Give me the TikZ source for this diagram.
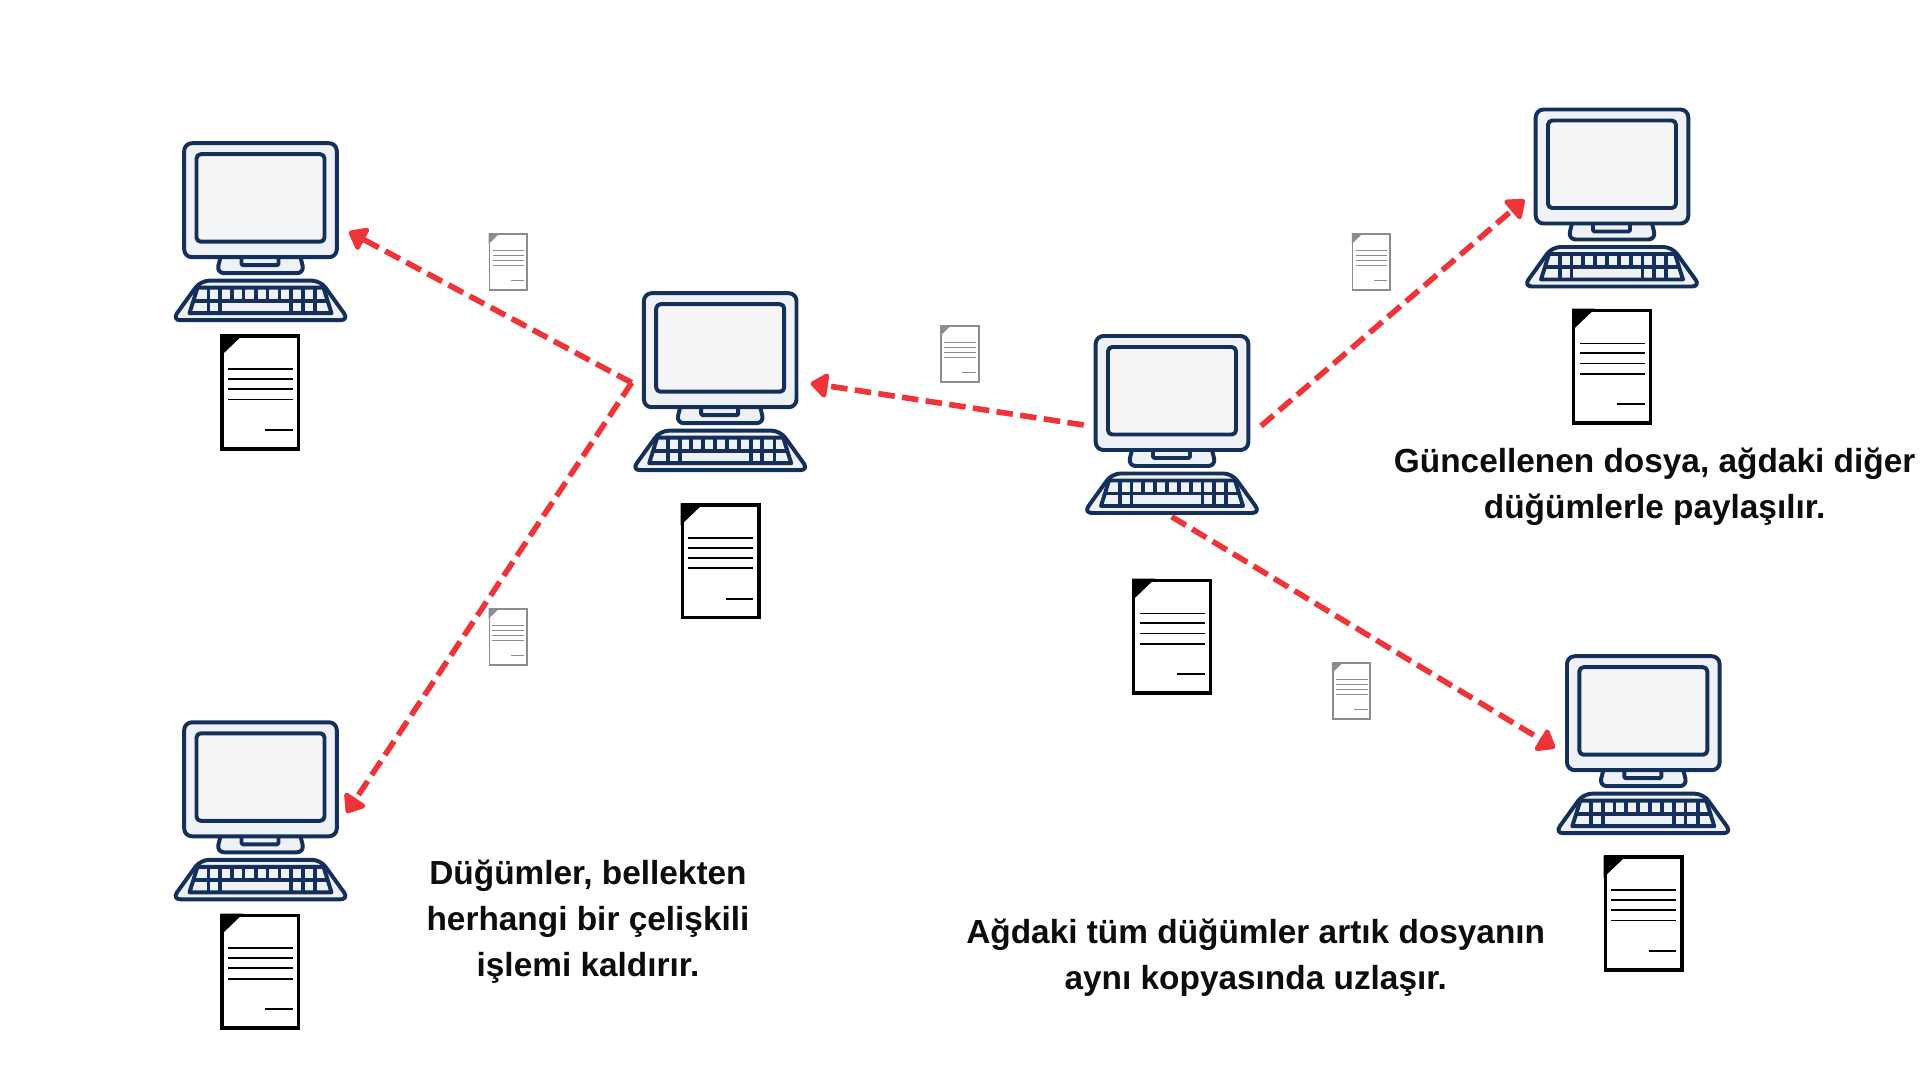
\documentclass[tikz,border=0pt]{standalone}
\usepackage{fontspec}
\setmainfont{Liberation Sans}
\usetikzlibrary{arrows.meta}
\definecolor{navy}{HTML}{14305A}
\definecolor{bodyfill}{HTML}{EEF2F7}
\definecolor{screenfill}{HTML}{F4F5F7}
\definecolor{redline}{HTML}{EE3438}
\definecolor{docgray}{HTML}{8C8C8C}
\tikzset{
  x=0.05cm,y=-0.05cm,
  navyline/.style={draw=navy,line width=5.6pt,line join=round},
  flow/.style={draw=redline,line width=8pt,dash pattern=on 23.5pt off 10.5pt,
    -{Triangle[length=27pt,width=40pt,round]}},
  caption/.style={align=center,text=black!95,font=\fontsize{47.5}{65}\selectfont\bfseries,inner sep=0pt},
  computer/.pic={
    \draw[navyline,fill=bodyfill,rounded corners=11pt] (-40,114.5) -- (-44,130.5) -- (44,130.5) -- (40,114.5);
    \draw[navyline,fill=bodyfill,rounded corners=2pt] (-19,114.5) -- (-19,122.5) -- (18,122.5) -- (18,114.5);
    \draw[navyline,fill=bodyfill,rounded corners=11pt] (-76.3,0.5) rectangle (76.3,114.5);
    \draw[navyline,fill=screenfill,rounded corners=6pt] (-64,11.5) rectangle (64,99);
    \draw[navyline,fill=bodyfill,rounded corners=12pt] (-60,138) -- (60,138) -- (88.5,177.5) -- (-88.5,177.5) -- cycle;
    \draw[navyline,fill=bodyfill] (-63,145) -- (63,145) -- (71,170.5) -- (-71,170.5) -- cycle;
    \draw[navyline] (-67,158) -- (67,158);
    \foreach \k in {-52,-40.5,-28.8,-17,-4.9,7,19,30.5,42.2,54.3} \draw[navyline] (\k,145) -- (\k,158);
    \foreach \k in {-52,-40.5,30.5,42.2,54.3} \draw[navyline] (\k,158) -- (\k,170.5);
  },
  document/.pic={
    \draw[draw=#1,fill=white,line width=5pt] (-38.3,-56.3) rectangle (38.3,56.3);
    \fill[#1] (-40,-58) -- (-17,-58) -- (-40,-36) -- cycle;
    \foreach \l in {-23.2,-13.5,-3.2,7} \draw[#1,line width=2.6pt] (-32.3,\l) -- (32.7,\l);
    \draw[#1,line width=2.6pt] (5,37.5) -- (32.7,37.5);
  },
  smalldocument/.pic={
    \draw[draw=docgray,fill=white,line width=2.4pt] (-18.8,-28) rectangle (18.8,28);
    \fill[docgray] (-19.6,-28.8) -- (-8.5,-28.8) -- (-19.6,-18) -- cycle;
    \foreach \l in {-11.4,-6.6,-1.6,3.4} \draw[docgray,line width=1.3pt] (-15.8,\l) -- (16,\l);
    \draw[docgray,line width=1.3pt] (2.5,18.4) -- (16,18.4);
  }
}
\begin{document}
\begin{tikzpicture}
\useasboundingbox[fill=white] (0,0) rectangle (1920,1080);
% computers
\path (260.5,142.7) pic {computer};
\path (720.2,292.7) pic {computer};
\path (1172,335.5) pic {computer};
\path (260.5,721.8) pic {computer};
\path (1612,109) pic {computer};
\path (1643.3,655.7) pic {computer};
% documents
\path (260.3,392.5) pic {document=black};
\path (720.6,561.4) pic {document=black};
\path (1172,636.7) pic {document=black};
\path (260.3,971.6) pic {document=black};
\path (1612,366.7) pic {document=black};
\path (1643.6,913.5) pic {document=black};
% small documents
\path (508.3,262) pic {smalldocument};
\path (959.9,353.9) pic {smalldocument};
\path (1371.4,262) pic {smalldocument};
\path (508.2,636.8) pic {smalldocument};
\path (1351.5,691.2) pic {smalldocument};
% connector ends
\coordinate (sender) at (1083.7,425);
\coordinate (senderUp) at (1261,426);
\coordinate (senderDown) at (1171.7,516.7);
\coordinate (mid) at (810.6,383.3);
\coordinate (junction) at (631.7,382.7);
\coordinate (topLeft) at (349,231.7);
\coordinate (bottomLeft) at (346.5,813);
\coordinate (topRight) at (1524.5,199.6);
\coordinate (bottomRight) at (1555,748);
\draw[flow] (sender) -- (mid);
\draw[flow] (junction) -- (topLeft);
\draw[flow] (junction) -- (bottomLeft);
\draw[flow] (senderUp) -- (topRight);
\draw[flow] (senderDown) -- (bottomRight);
% captions
\node[caption] (capA) at (1654.6,486.5) {Güncellenen dosya, ağdaki diğer\\düğümlerle paylaşılır.};
\node[caption] (capB) at (588,921.5) {Düğümler, bellekten\\herhangi bir çelişkili\\işlemi kaldırır.};
\node[caption] (capC) at (1255.7,957.5) {Ağdaki tüm düğümler artık dosyanın\\aynı kopyasında uzlaşır.};
\end{tikzpicture}
\end{document}
